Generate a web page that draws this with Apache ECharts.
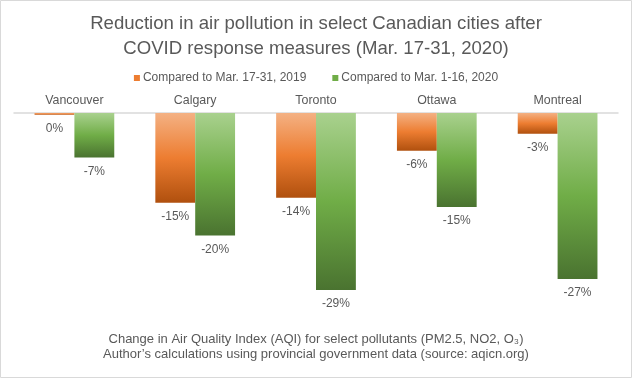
<!DOCTYPE html>
<html><head><meta charset="utf-8">
<script src="https://cdn.jsdelivr.net/npm/echarts@6/dist/echarts.min.js"></script>
<style>html,body{margin:0;padding:0;background:#fff}#c{width:632px;height:378px}</style>
</head><body><div id="c"></div>
<script>
const cities = ['Vancouver', 'Calgary', 'Toronto', 'Ottawa', 'Montreal'];
const seriesNames = ['Compared to Mar. 17-31, 2019', 'Compared to Mar. 1-16, 2020'];
const vs2019 = [-0.3, -14.7, -13.9, -6.2, -3.4];
const vsEarlyMarch = [-7.3, -20.1, -29.0, -15.4, -27.2];
const titleText = 'Reduction in air pollution in select Canadian cities after\nCOVID response measures (Mar. 17-31, 2020)';
const footText = 'Change in Air Quality Index (AQI) for select pollutants (PM2.5, NO2, O\u2083)\nAuthor\u2019s calculations using provincial government data (source: aqicn.org)';

const FONT = '"Liberation Sans", Arial, sans-serif';
const TXT = '#595959';
function grad(a, b, c) {
  return new echarts.graphic.LinearGradient(0, 0, 0, 1, [
    {offset: 0, color: a}, {offset: 0.5, color: b}, {offset: 1, color: c}
  ]);
}
const chart = echarts.init(document.getElementById('c'));
chart.setOption({
  animation: false,
  textStyle: {fontFamily: FONT},
  title: {
    text: titleText, left: 'center', top: 7,
    textStyle: {fontFamily: FONT, fontSize: 18.6, fontWeight: 'normal', color: TXT, lineHeight: 24.5}
  },
  legend: {
    top: 67, left: 'center', itemWidth: 6, itemHeight: 6, itemGap: 26,
    icon: 'rect',
    textStyle: {fontFamily: FONT, fontSize: 12, color: TXT, padding: [0, 0, 0, -2]},
    data: [
      {name: seriesNames[0], itemStyle: {color: '#ED7D31'}},
      {name: seriesNames[1], itemStyle: {color: '#70AD47'}}
    ]
  },
  graphic: [
    {type: 'rect', shape: {x: 0.5, y: 0.5, width: 631, height: 377}, style: {fill: null, stroke: '#d9d9d9', lineWidth: 1}, silent: true},
    {type: 'text', left: 'center', top: 332, style: {text: footText, font: '13px ' + FONT, fill: TXT, textAlign: 'center', lineHeight: 15}}
  ],
  grid: {left: 14, right: 14, top: 113, bottom: 82},
  xAxis: {
    type: 'category', position: 'top', data: cities,
    axisLine: {lineStyle: {color: '#d9d9d9', width: 1.5}},
    axisTick: {show: false},
    axisLabel: {color: TXT, fontSize: 12.4, margin: 6, fontFamily: FONT}
  },
  yAxis: {type: 'value', min: -30, max: 0, show: false, splitLine: {show: false}},
  series: [
    {
      name: seriesNames[0], type: 'bar', data: vs2019, barGap: '0%', barCategoryGap: '34%',
      itemStyle: {color: grad('#F4B183', '#ED7D31', '#B0500E')},
      label: {show: true, position: 'bottom', distance: 8, color: TXT, fontSize: 12, fontFamily: FONT,
        formatter: p => Math.round(p.value) + '%'}
    },
    {
      name: seriesNames[1], type: 'bar', data: vsEarlyMarch,
      itemStyle: {color: grad('#A9D18E', '#70AD47', '#4A7330')},
      label: {show: true, position: 'bottom', distance: 8, color: TXT, fontSize: 12, fontFamily: FONT,
        formatter: p => Math.round(p.value) + '%'}
    }
  ]
});
</script></body></html>
